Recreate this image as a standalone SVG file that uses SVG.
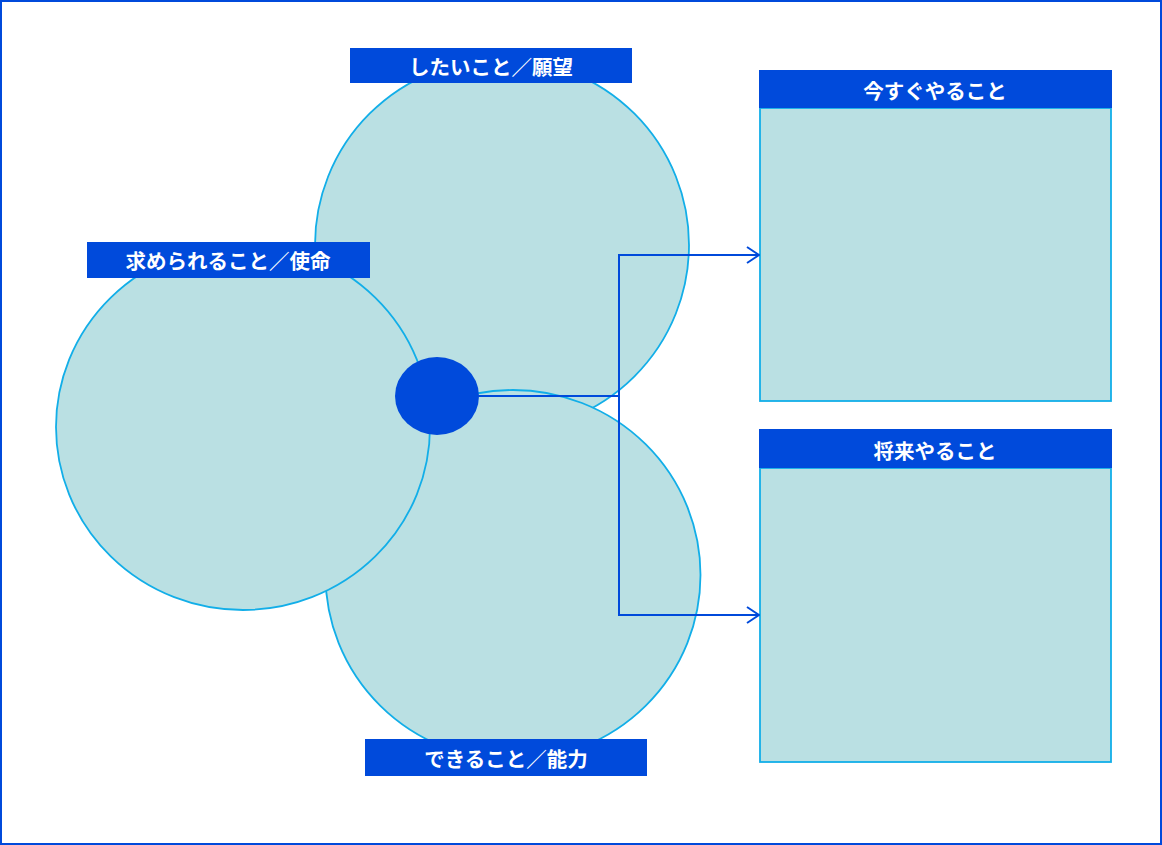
<svg xmlns="http://www.w3.org/2000/svg" width="1162" height="845" viewBox="0 0 1162 845">
<defs>
<style>
.circ{fill:#BAE0E3;stroke:#12AEE8;stroke-width:1.8}
.hdr{fill:#004ADB}
.body{fill:#BAE0E3;stroke:#12AEE8;stroke-width:1.8}
.lbl{fill:#fff;font-family:"Noto Sans CJK JP","Noto Sans",sans-serif;font-weight:bold;font-size:20.5px;text-anchor:middle;dominant-baseline:central}
.conn{fill:none;stroke:#004ADB;stroke-width:2}
</style>
<marker id="arr" markerWidth="14" markerHeight="18" refX="13" refY="9" orient="auto" markerUnits="userSpaceOnUse">
<path d="M1,1 L13,9 L1,17" fill="none" stroke="#004ADB" stroke-width="2"/>
</marker>
</defs>
<rect x="1" y="1" width="1160" height="843" fill="#fff" stroke="#004ADB" stroke-width="2"/>
<g id="circle-wish"><ellipse class="circ" cx="502" cy="245" rx="187" ry="186"/></g>
<g id="circle-ability"><ellipse class="circ" cx="513" cy="575" rx="187.5" ry="185"/></g>
<g id="circle-mission"><ellipse class="circ" cx="243" cy="427" rx="187" ry="183"/></g>
<g id="center"><ellipse cx="437" cy="396" rx="42" ry="39" fill="#004ADB"/></g>
<g id="label-wish"><rect class="hdr" x="350" y="48" width="282" height="35"/><text class="lbl" x="491" y="66">したいこと／願望</text></g>
<g id="label-mission"><rect class="hdr" x="87" y="242" width="283" height="36"/><text class="lbl" x="228" y="260">求められること／使命</text></g>
<g id="label-ability"><rect class="hdr" x="365" y="739" width="282" height="37"/><text class="lbl" x="506" y="758">できること／能力</text></g>
<g id="box-now"><rect class="body" x="760" y="108" width="351" height="293"/><rect class="hdr" x="759" y="70" width="353" height="38"/><text class="lbl" x="935" y="90">今すぐやること</text></g>
<g id="box-future"><rect class="body" x="760" y="468" width="351" height="294"/><rect class="hdr" x="759" y="429" width="353" height="39"/><text class="lbl" x="935" y="450">将来やること</text></g>
<g id="connectors">
<path class="conn" d="M478,396 H619"/>
<path class="conn" d="M619,396 V255 H759" marker-end="url(#arr)"/>
<path class="conn" d="M619,396 V615 H759" marker-end="url(#arr)"/>
</g>
</svg>
